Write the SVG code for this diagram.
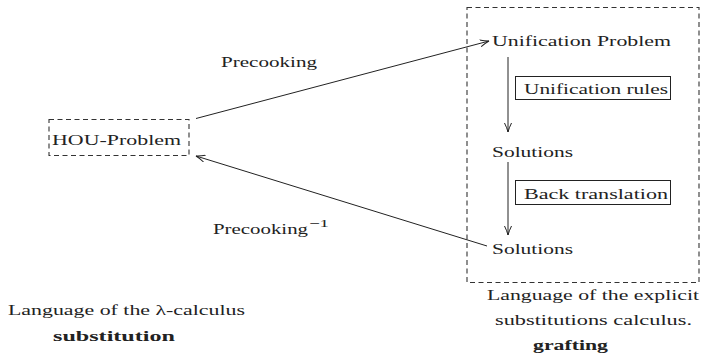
<svg xmlns="http://www.w3.org/2000/svg" width="702" height="355" viewBox="0 0 702 355" font-family="'Liberation Serif', 'DejaVu Serif', serif">
<style>
text{font-family:'Liberation Serif','DejaVu Serif',serif;font-size:15.5px;fill:#222}
.sup{font-size:11px}
.b{font-weight:bold}
.dash{fill:none;stroke:#333;stroke-width:1.1;stroke-dasharray:5,3.5}
.solid{fill:none;stroke:#222;stroke-width:1}
.edge{fill:none;stroke:#222;stroke-width:1;marker-end:url(#ah)}
</style>
<defs>
<marker id="ah" viewBox="0 0 10 8" refX="9" refY="4" markerWidth="10" markerHeight="8" markerUnits="userSpaceOnUse" orient="auto">
<path d="M0,0.5 Q5,3 9,4 Q5,5 0,7.5" fill="none" stroke="#222" stroke-width="1"/>
</marker>
</defs>
<rect x="0" y="0" width="702" height="355" fill="#fff"/>
<g id="explicit-frame">
<rect class="dash" x="467" y="7.5" width="232" height="275"/>
</g>
<g id="hou">
<rect class="dash" x="49" y="119.5" width="140" height="36"/>
<text x="52" y="145" textLength="129" lengthAdjust="spacingAndGlyphs">HOU-Problem</text>
</g>
<g id="unif-problem">
<text x="492" y="46" textLength="179" lengthAdjust="spacingAndGlyphs">Unification Problem</text>
</g>
<g id="unif-rules">
<rect class="solid" x="515.5" y="76.5" width="155" height="23"/>
<text x="524" y="94" textLength="144" lengthAdjust="spacingAndGlyphs">Unification rules</text>
</g>
<g id="solutions1">
<text x="492" y="157" textLength="81" lengthAdjust="spacingAndGlyphs">Solutions</text>
</g>
<g id="back-translation">
<rect class="solid" x="515.5" y="180.5" width="155" height="24"/>
<text x="524" y="199" textLength="144" lengthAdjust="spacingAndGlyphs">Back translation</text>
</g>
<g id="solutions2">
<text x="492" y="254" textLength="81" lengthAdjust="spacingAndGlyphs">Solutions</text>
</g>
<g id="connectors">
<line class="edge" x1="196" y1="118.5" x2="489" y2="41"/>
<line class="edge" x1="487" y1="246" x2="196" y2="156"/>
<line class="edge" x1="508" y1="57" x2="508" y2="132"/>
<line class="edge" x1="508" y1="162" x2="508" y2="235"/>
</g>
<g id="labels">
<text x="221" y="67" textLength="96" lengthAdjust="spacingAndGlyphs">Precooking</text>
<text x="213" y="234" textLength="95" lengthAdjust="spacingAndGlyphs">Precooking</text>
<text class="sup" x="309" y="227" textLength="20" lengthAdjust="spacingAndGlyphs">−1</text>
<text x="8" y="315" textLength="237" lengthAdjust="spacingAndGlyphs">Language of the λ-calculus</text>
<text class="b" x="53" y="341" textLength="122" lengthAdjust="spacingAndGlyphs">substitution</text>
<text x="487" y="300" textLength="212" lengthAdjust="spacingAndGlyphs">Language of the explicit</text>
<text x="495" y="325" textLength="197" lengthAdjust="spacingAndGlyphs">substitutions calculus.</text>
<text class="b" x="533" y="350" textLength="75" lengthAdjust="spacingAndGlyphs">grafting</text>
</g>
</svg>
